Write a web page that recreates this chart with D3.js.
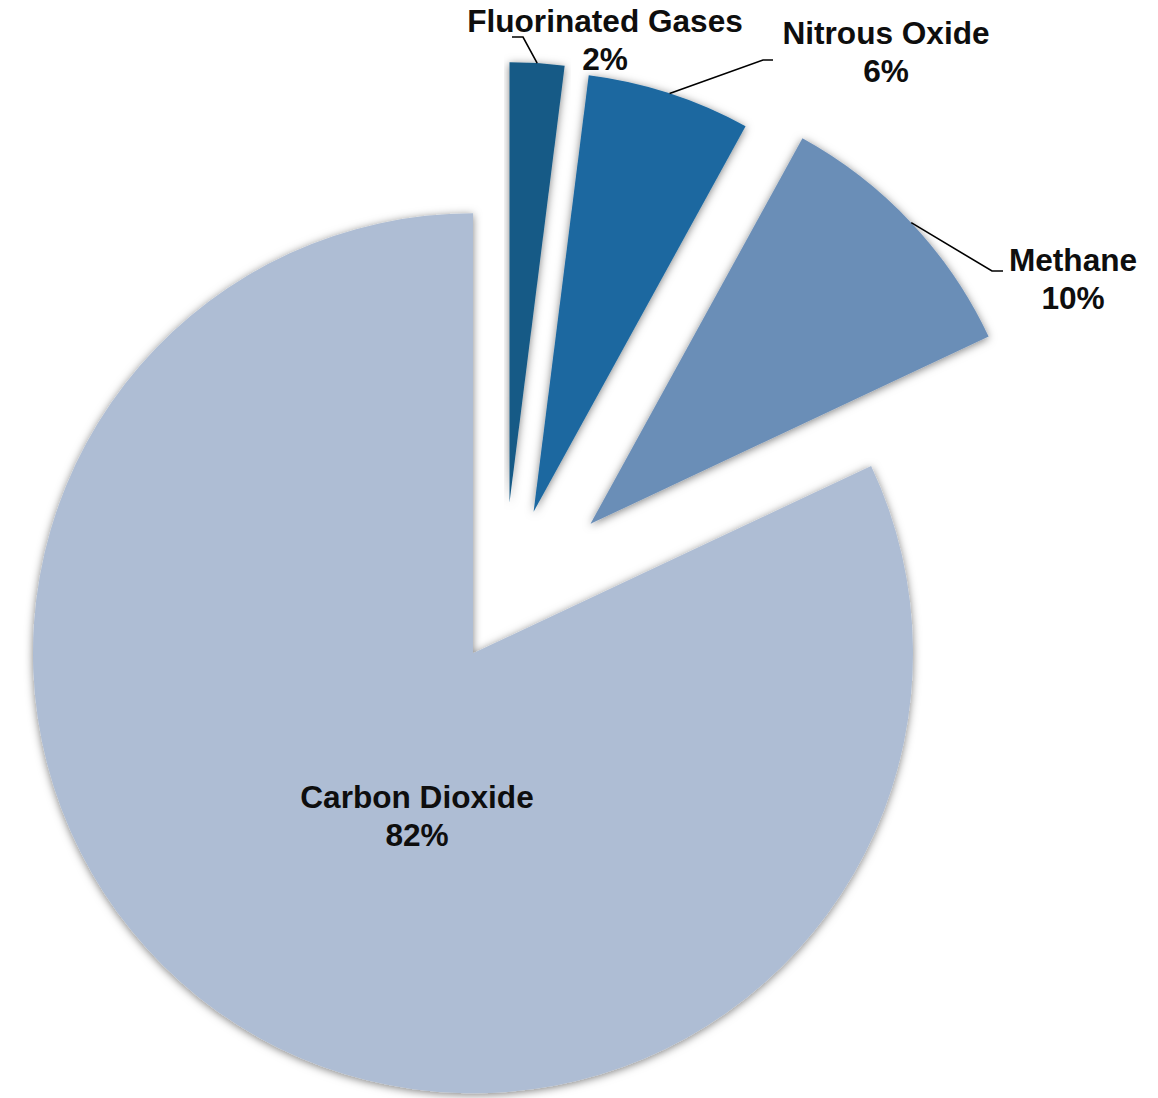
<!DOCTYPE html>
<html>
<head>
<meta charset="utf-8">
<script src="https://cdn.jsdelivr.net/npm/d3@7"></script>
<style>
  html, body { margin: 0; padding: 0; background: #ffffff; }
  svg { display: block; }
  text { font-family: "Liberation Sans", Arial, Helvetica, sans-serif; font-weight: bold; fill: #0e0e0e; }
</style>
</head>
<body>
<svg id="chart" width="1158" height="1098"></svg>
<script>
// Greenhouse gas shares (percent of total emissions), clockwise from 12 o'clock
const categories = ["Fluorinated Gases", "Nitrous Oxide", "Methane", "Carbon Dioxide"];
const shares = [2, 6, 10, 82];
const shareLabels = ["2%", "6%", "10%", "82%"];

// Styling and layout
const sliceColors = ["#155A86", "#1C68A0", "#6B8EB7", "#AEBDD4"];
const pieCenter = [503, 606];
const pieRadius = 440;
const explodeBy = [104, 99, 120, 56];          // px pulled out along each slice's bisector
const labelAnchor = [                          // text centre x, first baseline y
  [605, 32], [886, 44], [1073, 271], [417, 808]
];
const leaderBend = [                           // elbow and end of leader line (null = no leader)
  [[523, 37], [512, 37]],
  [[763, 60], [773, 60]],
  [[992, 271], [1003, 271]],
  null
];
const lineGap = 38;
const fontSize = 31.6;

const svg = d3.select("#chart");

const defs = svg.append("defs");
const shadow = defs.append("filter").attr("id", "softShadow")
  .attr("x", "-10%").attr("y", "-10%").attr("width", "120%").attr("height", "120%");
shadow.append("feDropShadow")
  .attr("dx", 0).attr("dy", 1.5).attr("stdDeviation", 4)
  .attr("flood-color", "#000").attr("flood-opacity", 0.5);

const pie = d3.pie().sort(null).value(d => d.value).startAngle(0).endAngle(2 * Math.PI);
const arc = d3.arc().innerRadius(0).outerRadius(pieRadius);

const data = categories.map((c, i) => ({ name: c, value: shares[i], label: shareLabels[i], i }));
const arcs = pie(data);

function offsetOf(d) {
  const mid = (d.startAngle + d.endAngle) / 2;
  const e = explodeBy[d.data.i];
  return [pieCenter[0] + e * Math.sin(mid), pieCenter[1] - e * Math.cos(mid)];
}

const slices = svg.append("g").attr("class", "slices");
slices.selectAll("path")
  .data(arcs)
  .join("path")
  .attr("transform", d => `translate(${offsetOf(d)})`)
  .attr("d", arc)
  .attr("fill", d => sliceColors[d.data.i])
  .attr("filter", "url(#softShadow)");

// Leader lines from the outer edge of each slice
const leaders = svg.append("g").attr("class", "leaders");
arcs.forEach(d => {
  const bend = leaderBend[d.data.i];
  if (!bend) return;
  const o = offsetOf(d);
  const mid = (d.startAngle + d.endAngle) / 2;
  const start = [o[0] + pieRadius * Math.sin(mid), o[1] - pieRadius * Math.cos(mid)];
  leaders.append("path")
    .attr("d", d3.line()([start, bend[0], bend[1]]))
    .attr("fill", "none")
    .attr("stroke", "#000")
    .attr("stroke-width", 1.6);
});

// Category and percentage labels
const labels = svg.append("g").attr("class", "labels");
arcs.forEach(d => {
  const [x, y] = labelAnchor[d.data.i];
  const t = labels.append("text")
    .attr("text-anchor", "middle")
    .attr("font-size", fontSize);
  t.append("tspan").attr("x", x).attr("y", y).text(d.data.name);
  t.append("tspan").attr("x", x).attr("y", y + lineGap).text(d.data.label);
});
</script>
</body>
</html>
